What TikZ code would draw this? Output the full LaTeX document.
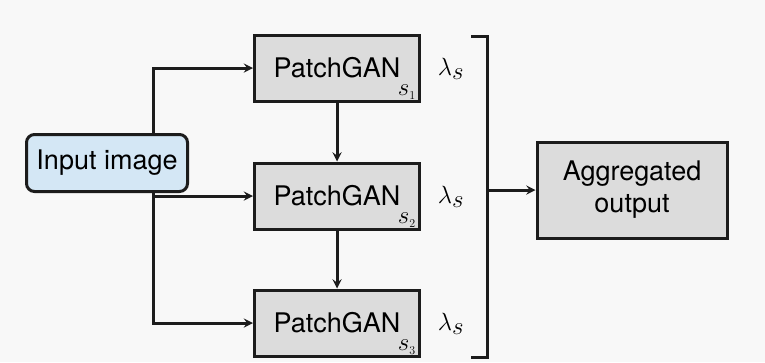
\documentclass[tikz,border=0pt]{standalone}
\usepackage{fontspec}
\setmainfont{TeX Gyre Heros}
\usetikzlibrary{positioning}

\definecolor{bgcol}{HTML}{F8F8F8}
\definecolor{inputblue}{HTML}{D4E7F5}
\definecolor{boxgray}{HTML}{DCDCDC}
\definecolor{ink}{HTML}{1C1C1C}

\pgfdeclarelayer{under}
\pgfsetlayers{under,main}

\begin{document}
\begin{tikzpicture}[
	x=1pt, y=-1pt,
	box/.style={
		rectangle,
		draw=ink,
		line width=3pt,
		fill=boxgray,
		inner sep=0pt,
		align=center,
		font=\fontsize{27}{32}\selectfont
	},
	patch/.style={box, minimum width=165pt, minimum height=66pt},
	inbox/.style={box, fill=inputblue, rounded corners=8pt, minimum width=161pt, minimum height=57pt},
	outbox/.style={box, minimum width=190pt, minimum height=96pt},
	scale label/.style={anchor=south east, inner sep=0pt, font=\fontsize{26}{26}\selectfont},
	weight/.style={font=\fontsize{32}{32}\selectfont, inner sep=0pt},
	link/.style={draw=ink, line width=3pt},
	arrow/.style={link, -stealth}
]

% Fondo y marco
\begin{pgfonlayer}{under}
\fill[bgcol] (0,0) rectangle (765,362);
\end{pgfonlayer}
\useasboundingbox (0,0) rectangle (765,362);

% Entrada
\node[inbox] (in) at (107,163) {Input image};
\coordinate (spine) at (153,0);

% Discriminadores por escala
\node[patch] (p1) at (337,68) {PatchGAN};
\node[patch] (p2) at (337,196) {PatchGAN};
\node[patch] (p3) at (337,323) {PatchGAN};

\node[scale label] (s1) at ([xshift=-5pt,yshift=3pt]p1.south east) {$s_{\scriptscriptstyle 1}$};
\node[scale label] (s2) at ([xshift=-5pt,yshift=3pt]p2.south east) {$s_{\scriptscriptstyle 2}$};
\node[scale label] (s3) at ([xshift=-5pt,yshift=3pt]p3.south east) {$s_{\scriptscriptstyle 3}$};

% Pesos
\node[weight] (w1) at (451,69) {$\lambda_{\textstyle s}$};
\node[weight] (w2) at (451,197) {$\lambda_{\textstyle s}$};
\node[weight] (w3) at (451,324) {$\lambda_{\textstyle s}$};

% Corchete de agregacion
\coordinate (bt) at (487,36);
\coordinate (bb) at (487,357);
\draw[link] ([xshift=-16pt]bt) -- (bt) -- (bb) -- ([xshift=-16pt]bb);

% Salida
\node[outbox] (agg) at (632,190) {Aggregated\\output};

% Flechas de conexion
\begin{pgfonlayer}{under}
\draw[link] (in.north -| spine) -- (in.south -| spine);
\end{pgfonlayer}
\draw[arrow] (in.north -| spine) |- (p1);
\draw[arrow] (in.south -| spine) |- (p2);
\draw[arrow] (in.south -| spine) |- (p3);
\draw[arrow] (p1) -- (p2);
\draw[arrow] (p2) -- (p3);
\draw[arrow] (agg.west -| bt) -- (agg.west);

\end{tikzpicture}
\end{document}
